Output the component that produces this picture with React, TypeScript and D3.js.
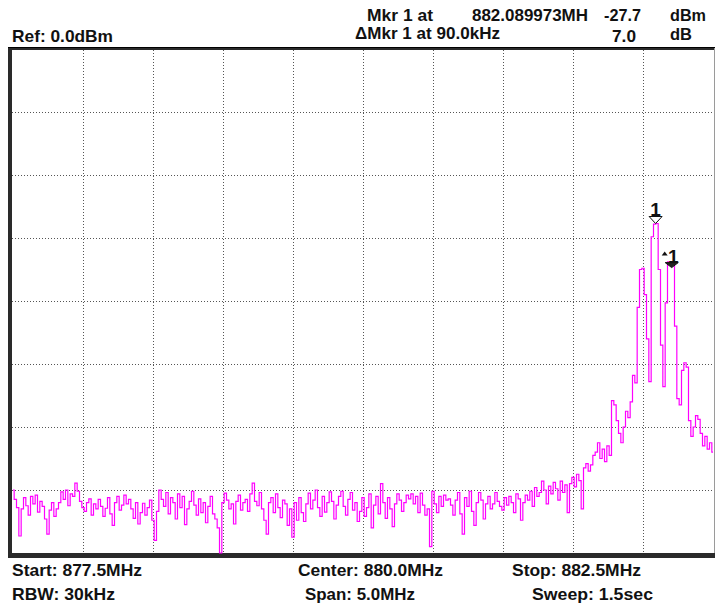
import React from "react";
import * as d3 from "d3";

// ---- data ----
const FREQ_START = 877.5; // MHz
const FREQ_STOP = 882.5; // MHz
const REF_LEVEL = 0; // dBm
const BOTTOM_LEVEL = -80; // dBm
const X_DIVS = 10;
const Y_DIVS = 8;

// trace amplitude (dBm), 301 sweep points
const traceValues: number[] = [
  -70.0, -71.5, -72.8, -77.3, -73.0, -71.2, -72.5, -74.0, -71.0, -72.2, -70.8, -73.5, -71.8, -72.6, -74.6, -77.0, -73.2, -72.0, -74.2, -73.0,
  -72.0, -70.3, -71.5, -70.0, -72.5, -70.6, -71.0, -68.9, -70.2, -71.8, -72.8, -73.4, -72.0, -71.4, -74.0, -72.2, -73.0, -71.5, -72.6, -74.2,
  -72.9, -71.2, -73.8, -75.6, -72.0, -71.0, -73.2, -72.4, -70.8, -72.2, -71.5, -73.0, -74.5, -72.0, -75.4, -73.6, -72.1, -74.0, -72.8, -71.6,
  -74.8, -78.0, -73.4, -70.0, -71.5, -72.6, -70.4, -73.8, -71.2, -72.0, -74.6, -70.6, -72.8, -71.0, -75.5, -73.0, -71.8, -70.2, -72.4, -74.0,
  -71.4, -73.6, -72.0, -75.2, -72.6, -71.0, -73.8, -74.6, -76.0, -80.0, -72.0, -70.5, -71.6, -73.0, -72.2, -75.4, -71.8, -70.8, -73.2, -72.0,
  -71.5, -73.4, -70.6, -68.9, -71.8, -72.5, -70.4, -73.0, -74.8, -77.0, -72.0, -71.2, -73.6, -70.6, -72.8, -74.4, -71.6, -72.2, -75.6, -73.0,
  -77.5, -72.0, -74.8, -71.2, -73.6, -75.0, -72.2, -70.5, -73.0, -71.6, -70.0, -72.8, -74.2, -71.0, -73.5, -72.0, -70.3, -71.8, -74.6, -72.4,
  -71.0, -70.2, -72.6, -74.0, -71.5, -70.4, -73.2, -72.0, -75.0, -73.4, -71.2, -74.2, -72.8, -70.6, -76.0, -72.4, -71.0, -73.8, -69.0, -72.0,
  -74.5, -71.2, -73.0, -75.8, -72.2, -70.6, -71.6, -73.4, -72.0, -70.8, -71.4, -70.6, -72.2, -71.0, -73.6, -70.5, -72.4, -74.0, -73.0, -79.0,
  -70.2, -72.2, -73.6, -71.0, -72.6, -70.8, -71.6, -71.4, -72.4, -74.0, -71.6, -70.4, -73.8, -77.0, -71.2, -72.6, -70.2, -73.4, -75.6, -72.0,
  -70.4, -71.6, -74.6, -72.2, -71.0, -73.0, -72.2, -70.4, -71.8, -72.6, -73.2, -71.2, -72.4, -71.0, -72.0, -73.6, -70.6, -71.4, -74.8, -72.0,
  -70.8, -71.6, -70.2, -72.6, -69.6, -71.0, -70.4, -68.6, -70.0, -72.2, -69.4, -70.6, -68.8, -69.8, -71.6, -68.6, -70.4, -69.2, -73.6, -69.0,
  -68.0, -69.5, -67.5, -68.5, -73.0, -66.5, -65.8, -67.0, -66.0, -64.5, -64.0, -62.5, -65.0, -63.5, -65.5, -63.0, -64.5, -55.8, -56.5, -59.0,
  -61.0, -62.5, -60.0, -57.5, -58.5, -56.0, -51.8, -53.0, -41.0, -35.0, -34.8, -39.0, -46.0, -52.8, -29.8, -27.8, -27.7, -35.0, -47.0, -53.6,
  -40.3, -33.8, -33.8, -34.0, -44.0, -55.5, -56.5, -51.0, -49.8, -50.5, -59.0, -61.5, -60.0, -58.2, -58.8, -61.0, -63.0, -61.5, -63.5, -62.5,
  -64.0,
];

const MARKER_FREQ = 882.089973; // MHz
const MARKER_LEVEL = -27.7; // dBm
const DELTA_FREQ = 0.09; // MHz
const DELTA_LEVEL = 7.0; // dB

const headerLeft = ["Ref: 0.0dBm"];
const headerMkr = ["Mkr 1 at", "882.089973MH", "-27.7", "dBm"];
const headerDelta = ["\u0394Mkr 1 at 90.0kHz", "7.0", "dB"];
const footerRow1 = ["Start: 877.5MHz", "Center: 880.0MHz", "Stop: 882.5MHz"];
const footerRow2 = ["RBW: 30kHz", "Span: 5.0MHz", "Sweep: 1.5sec"];

// ---- layout ----
const W = 715;
const H = 605;
const PL = 13;
const PR = 713;
const PT = 49;
const PB = 553;

const FONT = "'Liberation Sans Narrow', 'Liberation Sans', Arial, sans-serif";

export default function App() {
  const n = traceValues.length;
  const freqs = traceValues.map((_, i) => FREQ_START + (i * (FREQ_STOP - FREQ_START)) / (n - 1));
  const x = d3.scaleLinear().domain([FREQ_START, FREQ_STOP]).range([PL, PR]);
  const y = d3.scaleLinear().domain([BOTTOM_LEVEL, REF_LEVEL]).range([PB, PT]);

  const line = d3
    .line<number>()
    .x((_, i) => x(freqs[i]))
    .y((d) => y(d))
    .curve(d3.curveStep);

  const xGrid = d3.range(1, X_DIVS).map((k) => FREQ_START + (k * (FREQ_STOP - FREQ_START)) / X_DIVS);
  const yGrid = d3.range(1, Y_DIVS).map((k) => REF_LEVEL - (k * (REF_LEVEL - BOTTOM_LEVEL)) / Y_DIVS);

  const m1x = x(MARKER_FREQ);
  const m1y = y(MARKER_LEVEL);
  const m2x = x(MARKER_FREQ + DELTA_FREQ);
  const m2y = y(MARKER_LEVEL - DELTA_LEVEL);

  const txt = (s: string, tx: number, ty: number, len: number) => (
    <text
      key={s}
      x={tx}
      y={ty}
      textLength={len}
      lengthAdjust="spacingAndGlyphs"
      fontFamily={FONT}
      fontSize={17}
      fontWeight="bold"
      fill="#111"
    >
      {s}
    </text>
  );

  return (
    <svg
      width={W}
      height={H}
      style={{ position: "absolute", left: 0, top: 0, background: "#fff" }}
    >
      <rect x={0} y={0} width={W} height={H} fill="#fff" />

      {/* header */}
      {txt(headerLeft[0], 12, 42, 101)}
      {txt(headerMkr[0], 367, 21, 66)}
      {txt(headerMkr[1], 472, 21, 116)}
      {txt(headerMkr[2], 604, 21, 37)}
      {txt(headerMkr[3], 670, 21, 36)}
      {txt(headerDelta[0], 355, 39, 145)}
      {txt(headerDelta[1], 612, 42, 24)}
      {txt(headerDelta[2], 670, 40, 22)}

      {/* frame */}
      <rect x={8} y={47} width={707} height={511} fill="#2a2a2a" />
      <rect x={8} y={47} width={707} height={1} fill="#000" />
      <rect x={12} y={50} width={702} height={503} fill="#fff" />
      <line x1={714.5} y1={48} x2={714.5} y2={553} stroke="#9a9a9a" strokeWidth={1} />

      {/* grid */}
      <g stroke="#555" strokeWidth={1} strokeDasharray="1,2">
        {xGrid.map((f) => (
          <line key={"vx" + f} x1={Math.round(x(f)) + 0.5} x2={Math.round(x(f)) + 0.5} y1={50} y2={553} />
        ))}
        {yGrid.map((v) => (
          <line key={"hy" + v} x1={12} x2={714} y1={Math.round(y(v)) + 0.5} y2={Math.round(y(v)) + 0.5} />
        ))}
      </g>

      {/* trace */}
      <path d={line(traceValues) ?? ""} fill="none" stroke="#ff00ff" strokeWidth={1.2} />

      {/* marker 1 */}
      <path
        d={`M${m1x - 6.5},${m1y - 7} L${m1x + 6.5},${m1y - 7} L${m1x},${m1y} Z`}
        fill="#fff"
        stroke="#111"
        strokeWidth={1}
      />
      <text x={m1x} y={m1y - 7.5} textAnchor="middle" fontFamily={FONT} fontSize={19} fontWeight="bold" fill="#111">
        1
      </text>

      {/* delta marker */}
      <path
        d={`M${m2x - 3},${m2y - 5} L${m2x + 10},${m2y - 5} L${m2x + 3.5},${m2y} Z`}
        fill="#222"
        stroke="#111"
        strokeWidth={1}
      />
      <path d={`M${m2x - 6.5},${m2y - 12} L${m2x - 0.5},${m2y - 12} L${m2x - 3.5},${m2y - 16} Z`} fill="#111" />
      <text x={m2x + 5} y={m2y - 5} textAnchor="middle" fontFamily={FONT} fontSize={19} fontWeight="bold" fill="#111">
        1
      </text>

      {/* footer */}
      {txt(footerRow1[0], 12, 576, 130)}
      {txt(footerRow1[1], 298, 576, 145)}
      {txt(footerRow1[2], 512, 576, 129)}
      {txt(footerRow2[0], 12, 600, 103)}
      {txt(footerRow2[1], 305, 600, 110)}
      {txt(footerRow2[2], 532, 600, 121)}
    </svg>
  );
}
